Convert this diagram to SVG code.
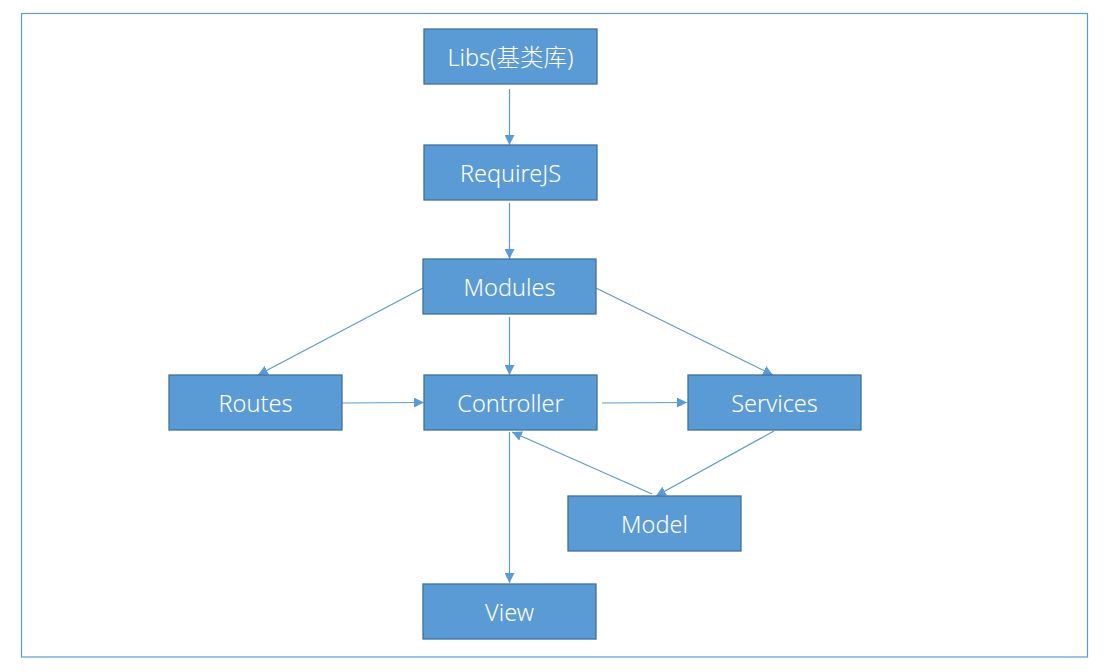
<svg xmlns="http://www.w3.org/2000/svg" width="1105" height="672" viewBox="0 0 1105 672">
<defs>
<style>
.node rect{fill:#5B9BD5;stroke:#41719C;stroke-width:1.3}
.node text{fill:#FFFFFF;font-family:"Noto Sans","Noto Sans CJK SC",sans-serif;font-size:23.5px;font-weight:300;text-anchor:middle;dominant-baseline:central}
.conn line{stroke:#5B9BD5;stroke-width:1.2;fill:none;marker-end:url(#arr)}
</style>
<marker id="arr" viewBox="0 0 10 10" refX="10" refY="5" markerWidth="10" markerHeight="10" markerUnits="userSpaceOnUse" orient="auto">
<path d="M0,0 L10,5 L0,10 Z" fill="#5B9BD5"/>
</marker>
</defs>
<rect x="0" y="0" width="1105" height="672" fill="#FFFFFF"/>
<rect x="21.5" y="13.5" width="1066" height="643.5" fill="none" stroke="#5B9BD5" stroke-width="1.2"/>
<g id="connectors" class="conn">
<line x1="509.5" y1="89" x2="509.5" y2="145"/>
<line x1="509.5" y1="203" x2="509.5" y2="259"/>
<line x1="509.5" y1="317" x2="509.5" y2="375"/>
<line x1="423" y1="288" x2="258" y2="375"/>
<line x1="596" y1="288" x2="773" y2="375"/>
<line x1="342" y1="403" x2="424" y2="402.5"/>
<line x1="602" y1="403" x2="687" y2="402.5"/>
<line x1="774" y1="431" x2="656" y2="496"/>
<line x1="652" y1="494" x2="512" y2="432"/>
<line x1="509.5" y1="432" x2="509.5" y2="583"/>
</g>
<g id="libs" class="node"><rect x="424" y="29" width="173" height="55"/><text x="510.5" y="57">Libs(基类库)</text></g>
<g id="requirejs" class="node"><rect x="424" y="145" width="173" height="55"/><text x="510.5" y="173">RequireJS</text></g>
<g id="modules" class="node"><rect x="423" y="259" width="173" height="55"/><text x="509.5" y="287">Modules</text></g>
<g id="routes" class="node"><rect x="169" y="375" width="173" height="55"/><text x="255.5" y="403">Routes</text></g>
<g id="controller" class="node"><rect x="424" y="375" width="173" height="55"/><text x="510.5" y="403">Controller</text></g>
<g id="services" class="node"><rect x="688" y="375" width="173" height="55"/><text x="774.5" y="403">Services</text></g>
<g id="model" class="node"><rect x="568" y="496" width="173" height="55"/><text x="654.5" y="524">Model</text></g>
<g id="view" class="node"><rect x="423" y="584" width="173" height="55"/><text x="509.5" y="612">View</text></g>
</svg>
